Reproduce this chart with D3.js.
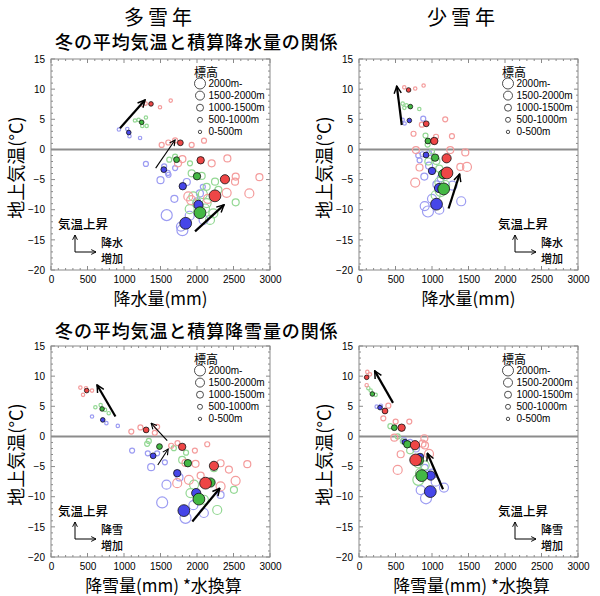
<!DOCTYPE html>
<html><head><meta charset="utf-8">
<script src="https://cdn.jsdelivr.net/npm/d3@7"></script>
<style>body{margin:0;background:#fff}</style>
</head><body><svg id="c" width="600" height="596"></svg>
<script>
// ---------- text ----------
const yearTitles=["多雪年","少雪年"];
const relTitles=["冬の平均気温と積算降水量の関係","冬の平均気温と積算降雪量の関係"];
const xTitles=["降水量(mm)","降雪量(mm) *水換算"];
const yTitle="地上気温(°C)";
const noteUp="気温上昇";
const noteRight=[["降水","増加"],["降雪","増加"]];
const legendTitle="標高";
const elevLabels=["2000m-","1500-2000m","1000-1500m","500-1000m","0-500m"];
const xTicks=[0,500,1000,1500,2000,2500,3000];
const yTicks=[-20,-15,-10,-5,0,5,10,15];

// ---------- data: [amount(mm), temperature(°C), elevation class 0=0-500m ... 4=2000m-] ----------
// panel 1: 多雪年, 降水量
const p1MeanBlue=[[1065,2.8,0],[1545,-3.35,1],[1805,-6.1,2],[2020,-9.2,3],[1845,-12.25,4]];
const p1MeanGreen=[[1242,4.5,0],[1720,-1.7,1],[2000,-4.45,2],[2041,-10.5,4]];
const p1MeanRed=[[1370,7.55,0],[1772,1.1,1],[2050,-1.8,2],[2383,-4.95,3],[2246,-7.7,4]];
const p1OpenBlue=[[930,3.3,0],[1045,3.4,0],[1075,2.2,0],[1220,1.9,0],[1300,-2.4,1],[1550,-2.8,1],[1610,-4.2,1],[1700,-3.1,1],[1500,-5.1,2],[1600,-3.9,1],[1690,-8.2,2],[1860,-5.4,2],[2040,-7.3,2],[2080,-6.2,1],[1585,-10.9,4],[1800,-13.4,4],[1780,-12.8,3],[2090,-11.7,3],[2000,-8.6,2],[1900,-11.0,3]];
const p1OpenGreen=[[1150,4.8,0],[1200,4.9,0],[1300,5.3,0],[1310,3.9,0],[1250,3.9,0],[1620,-1.7,1],[1700,-1.2,1],[1904,-2.3,1],[1927,-3.96,2],[2064,-4.4,2],[2132,-6.2,2],[2247,-5.35,2],[2293,-6.7,2],[2530,-8.77,2],[2132,-8.9,3],[2178,-11.7,3],[1950,-7.8,3],[2000,-9.0,3],[2110,-9.8,3],[2224,-10.6,3],[1900,-9.9,3],[2080,-7.4,3]];
const p1OpenRed=[[1250,7.4,0],[1297,7.6,0],[1493,7.0,0],[1640,8.1,0],[1516,0.75,1],[1607,1.15,1],[1700,1.5,1],[1927,0.75,1],[2096,1.45,1],[1800,-1.6,2],[1740,-2.3,2],[2201,-2.3,2],[2416,-1.5,2],[2521,-5.35,2],[2530,-4.5,2],[2855,-4.6,2],[1881,-7.8,3],[1920,-8.4,3],[2406,-7.2,3],[2717,-7.3,3],[2150,-8.2,3]];
// panel 2: 少雪年, 降水量
const p2MeanBlue=[[690,4.8,0],[918,-0.92,1],[1000,-3.57,2],[1096,-6.4,3],[1062,-9.08,4]];
const p2MeanGreen=[[704,7.1,0],[944,1.4,1],[1042,-1.36,2],[1152,-4.1,3],[1160,-6.55,4]];
const p2MeanRed=[[679,9.86,0],[921,4.25,1],[1031,1.4,2],[1200,-1.47,3],[1205,-3.9,4]];
const p2OpenBlue=[[598,4.9,0],[625,4.3,0],[880,5.1,1],[812,-1.0,1],[830,-1.8,1],[870,-0.8,1],[960,-0.6,1],[895,-4.5,2],[960,-2.7,2],[1120,-4.8,2],[945,-10.3,4],[1400,-8.6,3],[1000,-8.2,3],[900,-9.4,3],[1060,-5.8,2],[1280,-6.0,3],[1100,-10.0,3]];
const p2OpenGreen=[[598,7.6,0],[621,6.9,0],[826,6.7,0],[650,7.3,0],[911,2.3,1],[940,0.8,1],[1000,-0.3,1],[1060,-1.9,2],[1100,-3.2,2],[1100,-5.4,3],[1120,-6.9,4],[1050,-7.6,3],[1180,-5.9,3],[950,-2.0,2]];
const p2OpenRed=[[620,10.3,0],[770,10.1,0],[885,10.6,0],[861,4.1,1],[1181,5.0,1],[747,2.6,1],[1273,2.2,1],[1055,2.1,1],[780,-0.1,2],[1250,-0.1,2],[1456,-0.5,2],[829,-3.0,2],[1388,-2.9,2],[1479,-2.9,3],[770,-5.5,3]];
// panel 3: 多雪年, 降雪量
const p3MeanBlue=[[709,2.74,0],[1399,-3.22,1],[1729,-6.1,2],[1989,-9.4,3],[1820,-12.3,4]];
const p3MeanGreen=[[700,4.56,0],[1486,-1.68,1],[1875,-4.44,2],[2186,-7.64,3],[2026,-10.4,4]];
const p3MeanRed=[[489,7.6,0],[1303,1.08,1],[1797,-1.73,2],[2232,-4.88,3],[2117,-7.75,4]];
const p3OpenBlue=[[562,3.3,0],[759,2.2,0],[915,1.75,0],[1111,-2.34,1],[1326,-2.8,1],[1454,-2.8,1],[1372,-5.1,2],[1560,-4.3,1],[1582,-8.0,3],[1523,-10.95,4],[1843,-13.5,4],[2094,-12.7,3],[2323,-9.7,2],[1950,-11.4,3],[1760,-6.8,2]];
const p3OpenGreen=[[608,4.84,0],[791,3.85,0],[680,5.2,0],[740,4.4,0],[1317,-1.23,1],[1340,-0.74,1],[1683,-1.95,1],[1797,-3.9,2],[2232,-5.27,2],[1911,-9.4,3],[2094,-10.5,3],[2277,-12.2,3],[2506,-8.85,2],[1960,-8.0,3],[1850,-2.7,1]];
const p3OpenRed=[[402,8.1,0],[439,6.9,0],[562,7.6,0],[480,8.0,0],[1100,0.8,1],[1225,1.5,1],[1454,1.6,1],[1422,0.6,1],[1646,-1.55,1],[1733,-1.1,1],[2140,-1.3,1],[1971,-2.34,1],[1843,-4.4,2],[1980,-4.55,2],[2323,-4.45,2],[2437,-5.5,2],[2689,-4.6,2],[1729,-7.75,3],[1889,-7.2,3],[2323,-8.3,3],[2529,-7.36,3],[2050,-6.5,2]];
// panel 4: 少雪年, 降雪量
const p4MeanBlue=[[288,4.78,0],[630,-0.95,1],[836,-3.4,2],[982,-6.5,3],[977,-9.15,4]];
const p4MeanGreen=[[183,7.04,0],[484,1.45,1],[662,-1.3,2],[820,-4.0,3],[859,-6.5,4]];
const p4MeanRed=[[105,9.8,0],[356,4.22,1],[584,1.45,2],[767,-1.45,3],[776,-3.9,4]];
const p4OpenBlue=[[242,4.94,0],[300,5.1,0],[616,-0.6,1],[700,-0.9,1],[780,-2.0,2],[845,-8.9,3],[918,-10.26,4],[1164,-8.49,3],[1050,-7.5,3],[900,-5.2,2],[1000,-6.0,2]];
const p4OpenGreen=[[128,8.0,0],[228,6.9,0],[160,7.6,0],[430,1.7,1],[530,0.0,1],[600,-0.8,1],[700,-2.3,2],[813,-4.46,3],[836,-6.1,3],[813,-7.2,4],[900,-4.8,3]];
const p4OpenRed=[[114,10.7,0],[105,8.5,0],[150,10.3,0],[402,5.1,1],[333,3.0,1],[502,2.46,1],[689,2.46,1],[484,-0.2,2],[895,-0.3,2],[904,-1.5,2],[571,-2.96,2],[959,-2.9,3],[530,-5.56,3],[870,-1.2,2]];
// trend arrows [x0,t0,x1,t1,weight]
const p1Arrows=[[945,3.5,1288,8.2,2],[1434,-3.1,1699,1.57,1],[1973,-13.6,2370,-9.2,2]];
const p2Arrows=[[586,4.05,518,10.5,2],[1227,-9.8,1378,-4.1,2]];
const p3Arrows=[[883,3.3,631,8.54,2],[1592,-0.7,1372,2.18,1],[1463,-4.73,1605,-2.08,1],[1936,-14.1,2312,-8.6,2]];
const p4Arrows=[[466,5.57,215,10.87,2],[1151,-8.76,936,-2.8,2]];

// ---------- styles ----------
const fillCol=["#4646e8","#44b844","#ee4646"];
const openCol=["#9c9cf2","#94d894","#f49c9c"];
const rOpen=[1.7,2.5,3.5,4.5,5.5];
const rMean=[2.3,2.9,3.7,4.6,5.9];
const CJK="'Noto Sans CJK JP','Noto Sans CJK SC',sans-serif";
const LAT="'Liberation Sans',Arial,sans-serif";

const svg=d3.select("#c");
const W=219,H=211;
const panels=[
 {left:51,top:59,open:[p1OpenBlue,p1OpenGreen,p1OpenRed],mean:[p1MeanBlue,p1MeanGreen,p1MeanRed],arrows:p1Arrows,kind:0,noteX:7},
 {left:359,top:59,open:[p2OpenBlue,p2OpenGreen,p2OpenRed],mean:[p2MeanBlue,p2MeanGreen,p2MeanRed],arrows:p2Arrows,kind:0,noteX:139},
 {left:51,top:346,open:[p3OpenBlue,p3OpenGreen,p3OpenRed],mean:[p3MeanBlue,p3MeanGreen,p3MeanRed],arrows:p3Arrows,kind:1,noteX:7},
 {left:359,top:346,open:[p4OpenBlue,p4OpenGreen,p4OpenRed],mean:[p4MeanBlue,p4MeanGreen,p4MeanRed],arrows:p4Arrows,kind:1,noteX:139}
];

const defs=svg.append("defs");
function marker(id,size){
  defs.append("marker").attr("id",id).attr("viewBox","0 0 10 10").attr("refX",9).attr("refY",5)
   .attr("markerWidth",size).attr("markerHeight",size).attr("markerUnits","userSpaceOnUse").attr("orient","auto")
   .append("path").attr("d","M1,1 L9,5 L1,9").attr("fill","none").attr("stroke","#000").attr("stroke-width",1.6);
}
marker("ah2",9);marker("ah1",7);marker("ahs",6);

// titles
yearTitles.forEach((t,i)=>{
  svg.append("text").attr("x",[160,463][i]).attr("y",16).attr("text-anchor","middle").attr("dominant-baseline","central")
   .attr("font-family",CJK).attr("font-size",20).attr("letter-spacing",4).text(t);
});
relTitles.forEach((t,i)=>{
  svg.append("text").attr("x",55).attr("y",[41,330][i]).attr("dominant-baseline","central")
   .attr("font-family",CJK).attr("font-size",18).attr("font-weight",500).attr("letter-spacing",0.9).text(t);
});

panels.forEach(p=>{
  const x=d3.scaleLinear().domain([0,3000]).range([p.left,p.left+W]);
  const y=d3.scaleLinear().domain([-20,15]).range([p.top+H,p.top]);
  const g=svg.append("g");
  // frame
  g.append("rect").attr("x",p.left).attr("y",p.top).attr("width",W).attr("height",H)
   .attr("fill","none").attr("stroke","#8a8a8a").attr("stroke-width",1);
  // minor/major ticks
  d3.range(-20,16,1).forEach(v=>{
    const len=v%5===0?4:2;
    g.append("line").attr("x1",p.left).attr("x2",p.left+len).attr("y1",y(v)).attr("y2",y(v)).attr("stroke","#8a8a8a");
    g.append("line").attr("x1",p.left+W).attr("x2",p.left+W-len).attr("y1",y(v)).attr("y2",y(v)).attr("stroke","#8a8a8a");
  });
  d3.range(0,3001,100).forEach(v=>{
    const len=v%500===0?4:2;
    g.append("line").attr("y1",p.top+H).attr("y2",p.top+H-len).attr("x1",x(v)).attr("x2",x(v)).attr("stroke","#8a8a8a");
    g.append("line").attr("y1",p.top).attr("y2",p.top+len).attr("x1",x(v)).attr("x2",x(v)).attr("stroke","#8a8a8a");
  });
  // axis labels via d3 axes
  const ax=g.append("g").attr("transform",`translate(0,${p.top+H})`)
   .call(d3.axisBottom(x).tickValues(xTicks).tickSize(0).tickPadding(6).tickFormat(d3.format("d")));
  const ay=g.append("g").attr("transform",`translate(${p.left},0)`)
   .call(d3.axisLeft(y).tickValues(yTicks).tickSize(0).tickPadding(6).tickFormat(d=>d<0?"\u2212"+(-d):d));
  [ax,ay].forEach(a=>{a.select(".domain").remove();a.selectAll("text").attr("font-family",LAT).attr("font-size",10).attr("fill","#000");});
  // zero line
  g.append("line").attr("x1",p.left).attr("x2",p.left+W).attr("y1",y(0)).attr("y2",y(0)).attr("stroke","#8c8c8c").attr("stroke-width",2);
  // open circles
  p.open.forEach((arr,ci)=>{
    g.selectAll(null).data(arr).enter().append("circle")
     .attr("cx",d=>x(d[0])).attr("cy",d=>y(d[1])).attr("r",d=>rOpen[d[2]])
     .attr("fill","none").attr("stroke",openCol[ci]).attr("stroke-width",1.2);
  });
  // mean circles
  p.mean.forEach((arr,ci)=>{
    g.selectAll(null).data(arr).enter().append("circle")
     .attr("cx",d=>x(d[0])).attr("cy",d=>y(d[1])).attr("r",d=>rMean[d[2]])
     .attr("fill",fillCol[ci]).attr("stroke","#111").attr("stroke-width",0.8);
  });
  // arrows
  g.selectAll(null).data(p.arrows).enter().append("line")
   .attr("x1",d=>x(d[0])).attr("y1",d=>y(d[1])).attr("x2",d=>x(d[2])).attr("y2",d=>y(d[3]))
   .attr("stroke","#000").attr("stroke-width",d=>d[4]===2?2.2:1.1)
   .attr("marker-end",d=>d[4]===2?"url(#ah2)":"url(#ah1)");
  // legend
  const lx=p.left+149, ly=p.top;
  g.append("text").attr("x",lx-6).attr("y",ly+12).attr("dominant-baseline","central")
   .attr("font-family",CJK).attr("font-size",12).text(legendTitle);
  elevLabels.forEach((t,i)=>{
    const yy=ly+24.5+i*12.1;
    g.append("circle").attr("cx",lx).attr("cy",yy).attr("r",rOpen[4-i]).attr("fill","none").attr("stroke","#222").attr("stroke-width",0.8);
    g.append("text").attr("x",lx+8.5).attr("y",yy).attr("dominant-baseline","central")
     .attr("font-family",LAT).attr("font-size",10).text(t);
  });
  // note
  const nx=p.left+p.noteX, ny=p.top+164;
  g.append("text").attr("x",nx).attr("y",ny).attr("dominant-baseline","central").attr("font-family",CJK)
   .attr("font-size",12.5).attr("font-weight",500).text(noteUp);
  const cx=nx+17, cy=ny+29;
  g.append("line").attr("x1",cx).attr("y1",cy).attr("x2",cx).attr("y2",ny+12).attr("stroke","#000").attr("stroke-width",1).attr("marker-end","url(#ahs)");
  g.append("line").attr("x1",cx).attr("y1",cy).attr("x2",cx+21).attr("y2",cy).attr("stroke","#000").attr("stroke-width",1).attr("marker-end","url(#ahs)");
  noteRight[p.kind].forEach((t,i)=>{
    g.append("text").attr("x",cx+26).attr("y",ny+18.5+i*16).attr("dominant-baseline","central")
     .attr("font-family",CJK).attr("font-size",11).attr("font-weight",500).text(t);
  });
  // axis titles
  g.append("text").attr("x",p.left+W/2+(p.kind?3:0)).attr("y",p.top+H+27).attr("text-anchor","middle").attr("dominant-baseline","central")
   .attr("font-family",CJK).attr("font-size",17).text(xTitles[p.kind]);
  g.append("text").attr("transform",`translate(${p.left-36},${p.top+H/2+3}) rotate(-90)`).attr("text-anchor","middle").attr("dominant-baseline","central")
   .attr("font-family",CJK).attr("font-size",18).text(yTitle);
});
</script></body></html>
